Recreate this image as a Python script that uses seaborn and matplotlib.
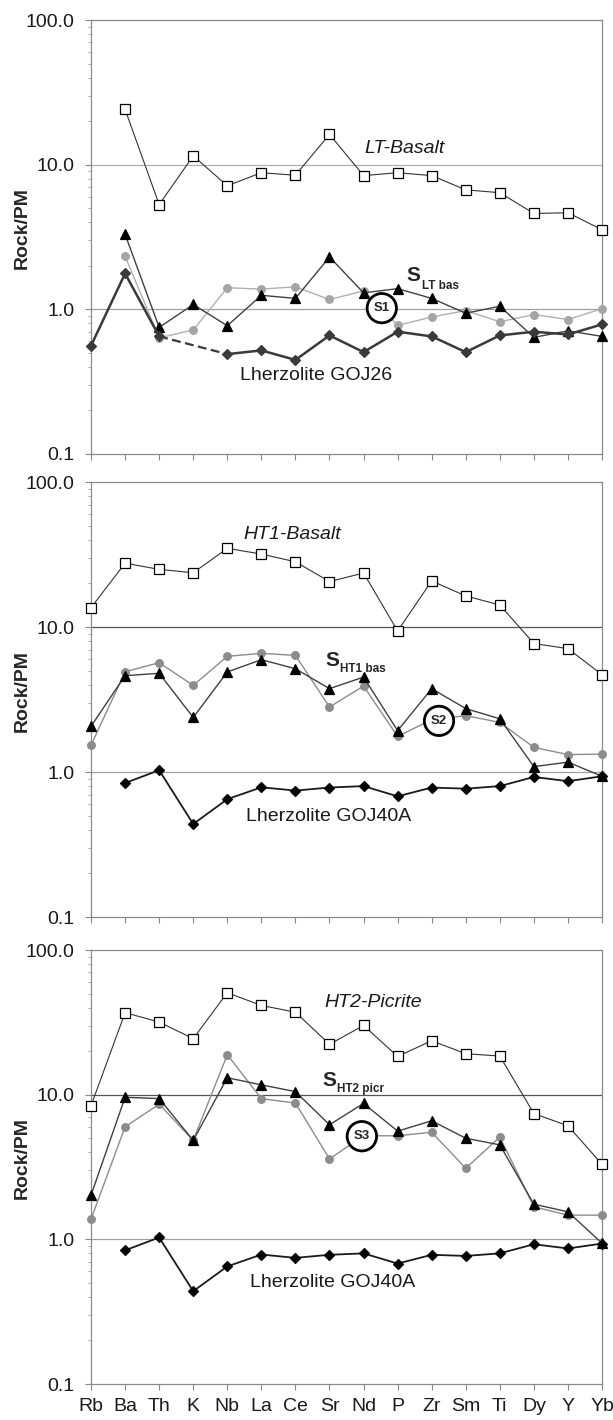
import numpy as np
import pandas as pd
import seaborn as sns
import matplotlib.pyplot as plt
from matplotlib.ticker import FixedLocator, FixedFormatter, LogLocator, NullFormatter

nan = np.nan
elements = ['Rb', 'Ba', 'Th', 'K', 'Nb', 'La', 'Ce', 'Sr', 'Nd', 'P', 'Zr', 'Sm', 'Ti', 'Dy', 'Y', 'Yb']

# panel 1
lt_basalt = [nan, 24.1, 5.3, 11.5, 7.15, 8.8, 8.45, 16.2, 8.4, 8.8, 8.4, 6.7, 6.4, 4.6, 4.65, 3.55]
s_lt_bas = [nan, 3.3, 0.75, 1.08, 0.77, 1.25, 1.19, 2.3, 1.3, 1.39, 1.19, 0.94, 1.05, 0.64, 0.71, 0.65]
s1 = [nan, 2.33, 0.635, 0.72, 1.41, 1.38, 1.43, 1.17, 1.34, 0.775, 0.885, 0.98, 0.82, 0.92, 0.85, 1.01]
goj26 = [0.56, 1.77, 0.65, nan, 0.49, 0.52, 0.447, 0.66, 0.506, 0.70, 0.65, 0.506, 0.66, 0.70, 0.67, 0.787]

# panel 2
ht1_basalt = [13.6, 27.6, 25.0, 23.7, 34.9, 31.9, 28.2, 20.6, 23.6, 9.4, 20.8, 16.4, 14.2, 7.7, 7.1, 4.7]
s_ht1_bas = [2.07, 4.62, 4.8, 2.38, 4.9, 5.96, 5.16, 3.76, 4.52, 1.93, 3.76, 2.74, 2.33, 1.09, 1.17, 0.935]
s2 = [1.53, 4.92, 5.68, 3.96, 6.28, 6.59, 6.38, 2.81, 3.92, 1.76, 2.3, 2.45, 2.2, 1.48, 1.32, 1.33]
goj40a = [nan, 0.84, 1.03, 0.438, 0.65, 0.785, 0.745, 0.782, 0.80, 0.68, 0.782, 0.768, 0.80, 0.925, 0.865, 0.935]

# panel 3
ht2_picrite = [8.4, 36.9, 31.8, 24.4, 50.7, 41.4, 37.2, 22.3, 30.1, 18.4, 23.6, 19.2, 18.5, 7.4, 6.1, 3.3]
s_ht2_picr = [2.02, 9.6, 9.4, 4.83, 13.1, 11.7, 10.5, 6.2, 8.7, 5.6, 6.6, 5.0, 4.5, 1.75, 1.55, 0.94]
s3 = [1.38, 6.0, 8.6, 4.83, 18.9, 9.4, 8.75, 3.6, 5.2, 5.2, 5.5, 3.1, 5.1, 1.68, 1.47, 1.47]

sns.set_style('white')
plt.rcParams['font.family'] = ['Liberation Sans', 'DejaVu Sans']


def frame(vals, start=0, stop=None):
    df = pd.DataFrame({'pos': range(len(elements)), 'val': vals}).iloc[start:stop]
    return df.dropna()


def series(ax, vals, marker, mfc, mec, color, lw, ms, ls='-', start=0, stop=None, z=3):
    sns.lineplot(data=frame(vals, start, stop), x='pos', y='val', ax=ax, color=color, lw=lw,
                 marker=marker, markerfacecolor=mfc, markeredgecolor=mec, markersize=ms,
                 markeredgewidth=0.9, linestyle=ls, estimator=None, sort=False,
                 clip_on=False, zorder=z)


def setup(ax, show_x, grid10='#8a8a8a'):
    ax.set_yscale('log')
    ax.set_ylim(0.1, 100)
    ax.set_xlim(0, 15)
    ax.axhline(1, color='#a0a0a0', lw=0.9, zorder=1)
    ax.axhline(10, color=grid10, lw=0.9, zorder=1)
    ax.yaxis.set_major_locator(FixedLocator([0.1, 1, 10, 100]))
    ax.yaxis.set_major_formatter(FixedFormatter(['0.1', '1.0', '10.0', '100.0']))
    ax.yaxis.set_minor_locator(LogLocator(base=10, subs=range(2, 10)))
    ax.yaxis.set_minor_formatter(NullFormatter())
    ax.set_xticks(range(len(elements)))
    ax.set_xticklabels(elements if show_x else [''] * len(elements))
    ax.tick_params(axis='y', which='major', left=True, direction='out', length=4,
                   width=0.8, color='#888888', labelsize=14, pad=8, labelcolor='#1a1a1a')
    ax.tick_params(axis='y', which='minor', left=True, direction='out', length=2.5,
                   width=0.6, color='#999999')
    ax.tick_params(axis='x', bottom=True, direction='out', length=4, width=0.8,
                   color='#888888', labelsize=14, pad=6, labelcolor='#1a1a1a')
    for sp in ax.spines.values():
        sp.set_visible(True)
        sp.set_color('#8a8a8a')
        sp.set_linewidth(0.9)
    ax.set_xlabel('')
    ax.set_ylabel('Rock/PM', fontsize=14, fontweight='bold')
    ax.yaxis.set_label_coords(-0.118, 0.52)


def label_s(ax, x, y, sub, xs, ys):
    ax.text(x, y, 'S', transform=ax.transAxes, fontsize=15, fontweight='bold',
            ha='left', va='center', zorder=8)
    ax.text(xs, ys, sub, transform=ax.transAxes, fontsize=8.5, fontweight='bold',
            ha='left', va='center', zorder=8)


def circ(ax, x, y, txt):
    ax.text(x, y, txt, transform=ax.transAxes, fontsize=9.5, fontweight='bold',
            ha='center', va='center', zorder=10,
            bbox=dict(boxstyle='circle,pad=0.5', fc='white', ec='black', lw=2))


fig = plt.figure(figsize=(6.13, 14.2), dpi=100)
ax1 = fig.add_axes([0.1485, 0.6803, 0.8336, 0.3056])
ax2 = fig.add_axes([0.1485, 0.3542, 0.8336, 0.3063])
ax3 = fig.add_axes([0.1485, 0.02535, 0.8336, 0.3056])

# panel 1
series(ax1, lt_basalt, 's', 'white', 'black', '#333333', 0.8, 7.5)
series(ax1, s1, 'o', '#a5a5a5', '#a5a5a5', '#b0b0b0', 1.0, 5.5)
series(ax1, s_lt_bas, '^', 'black', 'black', '#404040', 1.0, 7)
series(ax1, goj26, 'D', '#3a3a3a', '#3a3a3a', '#3a3a3a', 1.8, 5, stop=3)
series(ax1, goj26, 'D', '#3a3a3a', '#3a3a3a', '#3a3a3a', 1.8, 5, start=4)
sns.lineplot(data=frame(goj26, 2, 5), x='pos', y='val', ax=ax1, color='#3a3a3a', lw=1.6,
             linestyle=(0, (4, 2)), estimator=None, sort=False, zorder=2)
setup(ax1, False, grid10='#b0b0b0')
ax1.text(0.614, 0.703, 'LT-Basalt', transform=ax1.transAxes, fontsize=14,
         fontstyle='italic', ha='center', va='center', color='#1a1a1a')
label_s(ax1, 0.618, 0.412, 'LT bas', 0.648, 0.388)
circ(ax1, 0.569, 0.336, 'S1')
ax1.text(0.440, 0.180, 'Lherzolite GOJ26', transform=ax1.transAxes, fontsize=14,
         ha='center', va='center', color='#1a1a1a')

# panel 2
series(ax2, ht1_basalt, 's', 'white', 'black', '#333333', 0.8, 7.5)
series(ax2, s2, 'o', '#8c8c8c', '#8c8c8c', '#8c8c8c', 1.0, 5.5)
series(ax2, s_ht1_bas, '^', 'black', 'black', '#404040', 1.0, 7)
series(ax2, goj40a, 'D', 'black', 'black', '#1a1a1a', 1.3, 5)
setup(ax2, False, grid10='#555555')
ax2.text(0.393, 0.880, 'HT1-Basalt', transform=ax2.transAxes, fontsize=14,
         fontstyle='italic', ha='center', va='center', color='#1a1a1a')
label_s(ax2, 0.458, 0.590, 'HT1 bas', 0.487, 0.570)
circ(ax2, 0.681, 0.451, 'S2')
ax2.text(0.464, 0.230, 'Lherzolite GOJ40A', transform=ax2.transAxes, fontsize=14,
         ha='center', va='center', color='#1a1a1a')

# panel 3
series(ax3, ht2_picrite, 's', 'white', 'black', '#333333', 0.8, 7.5)
series(ax3, s3, 'o', '#8c8c8c', '#8c8c8c', '#8c8c8c', 1.0, 5.5)
series(ax3, s_ht2_picr, '^', 'black', 'black', '#404040', 1.0, 7)
series(ax3, goj40a, 'D', 'black', 'black', '#1a1a1a', 1.3, 5)
setup(ax3, True, grid10='#555555')
ax3.text(0.552, 0.878, 'HT2-Picrite', transform=ax3.transAxes, fontsize=14,
         fontstyle='italic', ha='center', va='center', color='#1a1a1a')
label_s(ax3, 0.452, 0.700, 'HT2 picr', 0.481, 0.679)
circ(ax3, 0.530, 0.571, 'S3')
ax3.text(0.472, 0.233, 'Lherzolite GOJ40A', transform=ax3.transAxes, fontsize=14,
         ha='center', va='center', color='#1a1a1a')

fig.savefig('out.png', dpi=100)
